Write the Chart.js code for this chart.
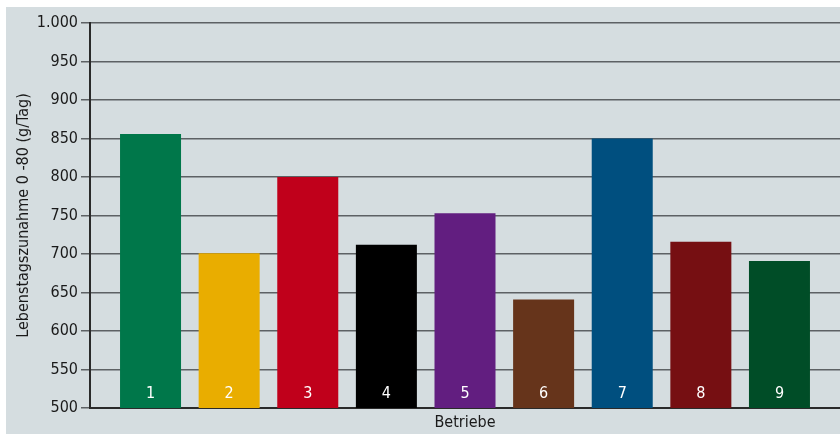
<!DOCTYPE html>
<html>
<head>
<meta charset="utf-8">
<script src="https://cdn.jsdelivr.net/npm/chart.js@4"></script>
<style>
  html, body { margin: 0; padding: 0; background: #ffffff; }
  #wrap { position: absolute; left: 6px; top: 7px; width: 834px; height: 427px; background: #d5dde0; }
</style>
</head>
<body>
<div id="wrap"><canvas id="betriebeChart"></canvas></div>
<script>
// Betriebe 1-9, Lebenstagszunahme 0-80 (g/Tag)
var categories = ["1", "2", "3", "4", "5", "6", "7", "8", "9"];
var values = [856, 701, 800, 712, 753, 641, 850, 716, 691];
var barColors = ["#00774a", "#e9ad00", "#c0001b", "#000000", "#621e80", "#66341b", "#004f7f", "#760f12", "#004d27"];
var yTicks = [500, 550, 600, 650, 700, 750, 800, 850, 900, 950, 1000];

var fontFamily = '"Liberation Sans Narrow", "DejaVu Sans Condensed", "Open Sans", sans-serif';

function formatDe(v) {
    return String(v).replace(/\B(?=(\d{3})+(?!\d))/g, ".");
}

// white numbers at the foot of each bar
var barNumbers = {
    id: 'barNumbers',
    afterDatasetsDraw: function(chart) {
        var ctx = chart.ctx;
        var meta = chart.getDatasetMeta(0);
        var yBase = chart.scales.y.getPixelForValue(yTicks[0]);
        ctx.save();
        ctx.fillStyle = '#ffffff';
        ctx.font = '16px ' + fontFamily;
        ctx.textAlign = 'center';
        ctx.textBaseline = 'alphabetic';
        meta.data.forEach(function(bar, i) {
            ctx.fillText(categories[i], bar.x, yBase - 10);
        });
        ctx.restore();
    }
};

var ctx = document.getElementById("betriebeChart").getContext('2d');

var myChart = new Chart(ctx, {
    type: 'bar',
    data: {
        datasets: [{
            label: 'Lebenstagszunahme',
            data: values.map(function(v, i) { return { x: i + 1, y: v }; }),
            backgroundColor: barColors,
            borderWidth: 0,
            barPercentage: 0.776,
            categoryPercentage: 1
        }]
    },
    options: {
        responsive: true,
        maintainAspectRatio: false,
        animation: false,
        layout: { padding: { top: 16, right: 0, left: 0, bottom: 0 } },
        plugins: {
            legend: { display: false },
            tooltip: { enabled: false }
        },
        scales: {
            x: {
                type: 'linear',
                offset: false,
                min: 0.23,
                max: 9.77,
                afterBuildTicks: function(scale) {
                    scale.ticks = categories.map(function(c, i) { return { value: i + 1 }; });
                },
                grid: { display: false, drawTicks: false, offset: false },
                border: { display: true, color: '#2a2a2a', width: 2 },
                ticks: { display: false },
                title: {
                    display: true,
                    text: 'Betriebe',
                    color: '#1a1a1a',
                    font: { family: fontFamily, size: 16 },
                    padding: { top: 0, bottom: 2 }
                },
                afterFit: function(scale) { scale.height = 26; }
            },
            y: {
                min: yTicks[0],
                max: yTicks[yTicks.length - 1],
                afterBuildTicks: function(scale) {
                    scale.ticks = yTicks.map(function(v) { return { value: v }; });
                },
                grid: { color: '#5d6164', lineWidth: 1.5, tickLength: 9, tickColor: '#5d6164' },
                border: { display: true, color: '#2a2a2a', width: 2 },
                ticks: {
                    color: '#1a1a1a',
                    padding: 3,
                    font: { family: fontFamily, size: 16 },
                    callback: function(v) { return formatDe(v); }
                },
                title: {
                    display: true,
                    text: 'Lebenstagszunahme 0 -80 (g/Tag)',
                    color: '#1a1a1a',
                    font: { family: fontFamily, size: 16 },
                    padding: { top: 8, bottom: 0 }
                },
                afterFit: function(scale) { scale.width = 84; }
            }
        }
    },
    plugins: [barNumbers]
});
</script>
</body>
</html>
